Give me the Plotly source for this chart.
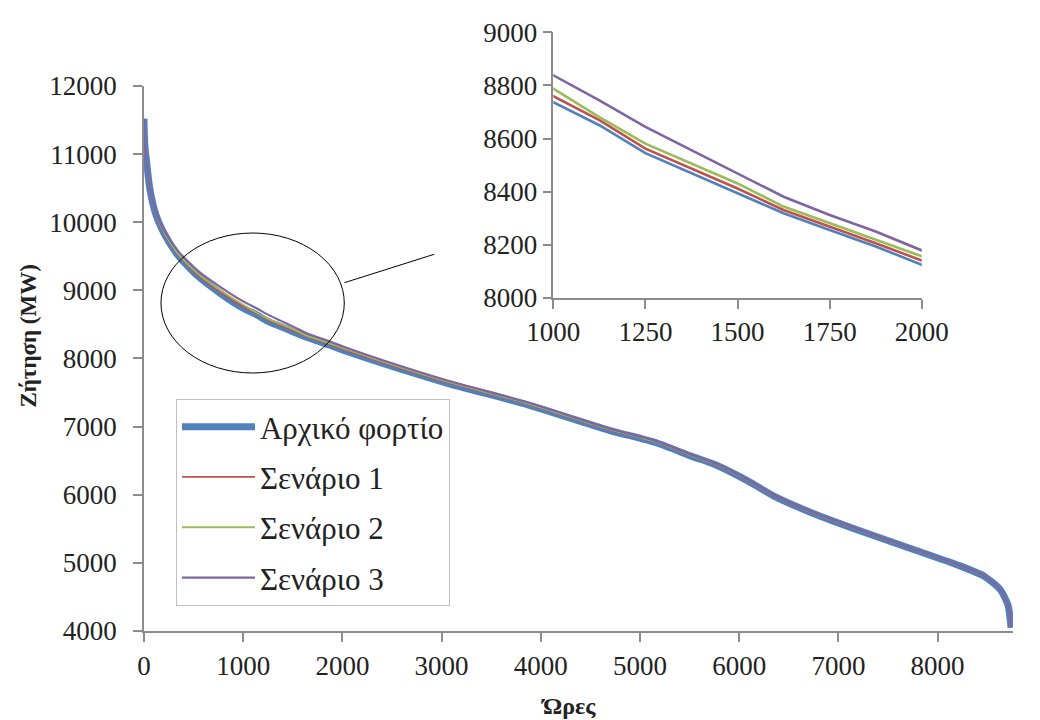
import plotly.graph_objects as go

# Load duration curve: hours of the year sorted by demand (MW)
hours = [0, 3, 10, 25, 60, 125, 220, 350, 550, 775,
         1000, 1125, 1250, 1375, 1500, 1625, 1750, 1875, 2000,
         2400, 3050, 3870, 4680, 5170, 5530, 5760, 6090, 6350, 6740,
         7230, 7720, 8200, 8470, 8630, 8710, 8740]

base_load = [11520, 11300, 11100, 10900, 10480, 10090, 9790, 9500, 9200, 8950,
             8737, 8650, 8545, 8469, 8394, 8319, 8256, 8194, 8125,
             7930, 7640, 7320, 6950, 6760, 6560, 6440, 6200, 5980, 5730,
             5465, 5215, 4970, 4805, 4610, 4380, 4050]

scenario_1 = [11520, 11300, 11100, 10900, 10482, 10095, 9798, 9512, 9215, 8968,
              8759, 8669, 8562, 8487, 8412, 8331, 8269, 8206, 8141,
              7944, 7652, 7330, 6958, 6767, 6566, 6445, 6205, 5984, 5734,
              5468, 5218, 4972, 4807, 4611, 4380, 4050]

scenario_2 = [11520, 11300, 11100, 10900, 10485, 10100, 9808, 9525, 9235, 8995,
              8788, 8681, 8581, 8506, 8431, 8344, 8281, 8219, 8156,
              7957, 7663, 7339, 6965, 6773, 6571, 6450, 6209, 5988, 5737,
              5471, 5220, 4974, 4808, 4612, 4381, 4050]

scenario_3 = [11520, 11300, 11100, 10900, 10490, 10115, 9835, 9565, 9280, 9045,
              8838, 8744, 8644, 8556, 8469, 8381, 8312, 8250, 8179,
              7978, 7680, 7353, 6977, 6783, 6580, 6458, 6216, 5994, 5742,
              5475, 5223, 4976, 4810, 4613, 4382, 4050]

series_names = ["Αρχικό φορτίο", "Σενάριο 1", "Σενάριο 2", "Σενάριο 3"]
series_values = [base_load, scenario_1, scenario_2, scenario_3]
colors = ["#4F81BD", "#C0504D", "#9BBB59", "#8064A2"]

main_x_ticks = list(range(0, 9000, 1000))
main_y_ticks = list(range(4000, 13000, 1000))
inset_x_ticks = [1000, 1250, 1500, 1750, 2000]
inset_y_ticks = [8000, 8200, 8400, 8600, 8800, 9000]

SERIF = "Liberation Serif"
TEXT = "#222222"
AXIS = "#8c8c8c"

fig = go.Figure()

# Main chart: thick base curve underneath, scenarios as thin lines on top
main_widths = [7, 1.8, 1.8, 2.2]
for name, vals, col, w in zip(series_names, series_values, colors, main_widths):
    fig.add_trace(go.Scatter(
        x=hours, y=vals, mode="lines", name=name,
        line=dict(color=col, width=w, shape="spline", smoothing=0.6),
        legendgroup=name, xaxis="x", yaxis="y",
    ))

# Inset: zoom on hours 1000-2000
for name, vals, col in zip(series_names, series_values, colors):
    fig.add_trace(go.Scatter(
        x=hours, y=vals, mode="lines", name=name, showlegend=False,
        line=dict(color=col, width=2.6),
        xaxis="x2", yaxis="y2",
    ))

axis_common = dict(
    showgrid=False, zeroline=False, showline=True, linecolor=AXIS, linewidth=1.5,
    ticks="outside", ticklen=9, tickcolor=AXIS, tickwidth=1.5,
    tickformat="d",
    tickfont=dict(family=SERIF, size=27, color=TEXT),
)

fig.update_layout(
    width=1040, height=720,
    margin=dict(l=144, r=0, t=20, b=89),
    paper_bgcolor="white", plot_bgcolor="white",
    showlegend=True,
    legend=dict(
        x=0.0368, y=0.3797, xanchor="left", yanchor="top",
        bgcolor="white", bordercolor="#bfbfbf", borderwidth=1,
        font=dict(family=SERIF, size=31, color=TEXT),
        tracegroupgap=7, itemwidth=73,
    ),
    xaxis=dict(domain=[0, 1], range=[0, 8760], tickvals=main_x_ticks,
               ticklabelstandoff=1, anchor="y", **axis_common),
    yaxis=dict(domain=[0, 0.892], range=[4000, 12000], tickvals=main_y_ticks,
               ticklabelstandoff=11, anchor="x", **axis_common),
    xaxis2=dict(domain=[0.471, 0.895], range=[1000, 2000], tickvals=inset_x_ticks,
                ticklabelstandoff=0, anchor="y2", **axis_common),
    yaxis2=dict(domain=[0.545, 0.980], range=[8000, 9000], tickvals=inset_y_ticks,
                ticklabelstandoff=0, anchor="x2", **axis_common),
    shapes=[
        # ellipse marking the zoomed region
        dict(type="circle", xref="x", yref="y", x0=171, x1=2019, y0=7787, y1=9842,
             line=dict(color="black", width=1)),
        # connector towards the inset
        dict(type="line", xref="x", yref="y", x0=2021, y0=9113, x1=2926, y1=9530,
             line=dict(color="black", width=1)),
    ],
    annotations=[
        dict(text="<b>Ζήτηση (MW)</b>", xref="paper", yref="paper",
             x=-0.1340, y=0.4828, xanchor="center", yanchor="middle",
             textangle=-90, showarrow=False,
             font=dict(family=SERIF, size=23, color=TEXT)),
        dict(text="<b>Ώρες</b>", xref="paper", yref="paper",
             x=0.4888, y=-0.1227, xanchor="center", yanchor="middle",
             showarrow=False,
             font=dict(family=SERIF, size=24, color=TEXT)),
    ],
)

fig.write_html("out.html")
